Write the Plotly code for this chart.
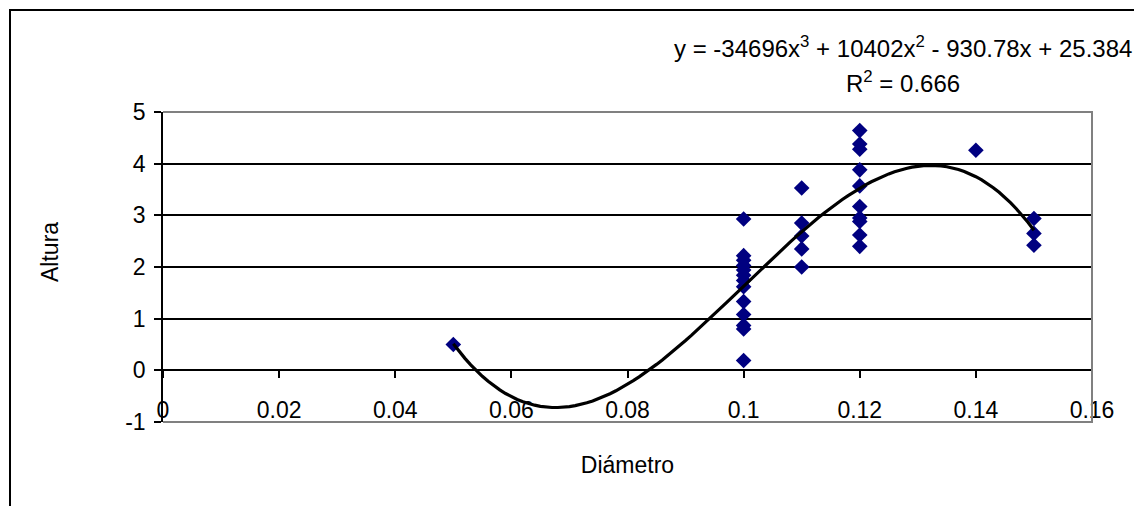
import numpy as np
import plotly.graph_objects as go

# Data
diametro = [0.05,
            0.10, 0.10, 0.10, 0.10, 0.10, 0.10, 0.10, 0.10, 0.10, 0.10, 0.10, 0.10, 0.10,
            0.11, 0.11, 0.11, 0.11, 0.11,
            0.12, 0.12, 0.12, 0.12, 0.12, 0.12, 0.12, 0.12, 0.12, 0.12,
            0.14,
            0.15, 0.15, 0.15]
altura = [0.50,
          2.93, 2.22, 2.13, 2.03, 1.94, 1.84, 1.74, 1.62, 1.33, 1.08, 0.87, 0.80, 0.19,
          3.53, 2.85, 2.60, 2.35, 2.00,
          4.64, 4.38, 4.28, 3.88, 3.57, 3.17, 2.95, 2.88, 2.62, 2.40,
          4.26,
          2.94, 2.65, 2.42]

y_tick_vals = [-1, 0, 1, 2, 3, 4, 5]
y_tick_labels = ["-1", "0", "1", "2", "3", "4", "5"]

# Trendline coefficients as printed on the chart (cubic, highest power first)
trend_coefs = [-34696, 10402, -930.78, 25.384]
trend_x = np.linspace(0.05, 0.15, 101)
trend_y = np.polyval(trend_coefs, trend_x)

eq_text = "y = -34696x<sup>3</sup> + 10402x<sup>2</sup> - 930.78x + 25.384"
r2_text = "R<sup>2</sup> = 0.666"

# page body has an 8px margin; positions below are in screenshot pixels
OFF = 8
W, H = 1142 - OFF, 506 - OFF
PL, PR, PT, PB = 163, 1092, 112, 422   # plot area in screenshot pixels
L, R, T, B = PL - OFF, W - (PR - OFF), PT - OFF, H - (PB - OFF)
pw, ph = PR - PL, PB - PT

def px_x(p):
    return (p - PL) / pw

def px_y(p):
    return (PB - p) / ph

font = "Liberation Sans, Arial, sans-serif"
fs = 23

fig = go.Figure()
fig.add_trace(go.Scatter(x=diametro, y=altura, mode="markers",
                         marker=dict(symbol="diamond", size=12, color="#000080"),
                         showlegend=False))
fig.add_trace(go.Scatter(x=trend_x, y=trend_y, mode="lines",
                         line=dict(color="black", width=3.2), showlegend=False))

fig.update_layout(
    width=W, height=H,
    margin=dict(l=L, r=R, t=T, b=B),
    paper_bgcolor="white", plot_bgcolor="white",
    font=dict(family=font, size=fs, color="black"),
    xaxis=dict(range=[0, 0.16], dtick=0.02, tick0=0, anchor="free", position=1/6,
               showline=True, linecolor="black", linewidth=1.5,
               ticks="outside", ticklen=7, tickcolor="black", tickwidth=1.5,
               showgrid=False, zeroline=False, ticklabelstandoff=12,
               title=dict(text="Diámetro", standoff=34, font=dict(size=fs))),
    yaxis=dict(range=[-1, 5], tickvals=y_tick_vals, ticktext=y_tick_labels,
               showline=True, linecolor="black", linewidth=1.5,
               ticks="outside", ticklen=7, tickcolor="black", tickwidth=1.5,
               showgrid=True, gridcolor="black", gridwidth=1.5, zeroline=False,
               ticklabelstandoff=4),
    shapes=[
        dict(type="path", xref="paper", yref="paper",
             path="M 0,1 L 1,1 L 1,0 L 0,0",
             line=dict(color="#808080", width=2), layer="above"),
        dict(type="rect", xref="paper", yref="paper",
             x0=px_x(10), x1=px_x(1136), y0=px_y(560), y1=px_y(10),
             line=dict(color="black", width=2), layer="below"),
    ],
    annotations=[
        dict(text="Altura", xref="paper", yref="paper", x=px_x(50), y=px_y(252),
             xanchor="center", yanchor="middle",
             textangle=-90, showarrow=False, font=dict(size=fs)),
        dict(text=eq_text, xref="paper", yref="paper", x=px_x(903), y=px_y(47),
             xanchor="center", yanchor="middle",
             showarrow=False, font=dict(size=24)),
        dict(text=r2_text, xref="paper", yref="paper", x=px_x(903), y=px_y(82),
             xanchor="center", yanchor="middle",
             showarrow=False, font=dict(size=24)),
    ],
)

fig.write_html("out.html")
